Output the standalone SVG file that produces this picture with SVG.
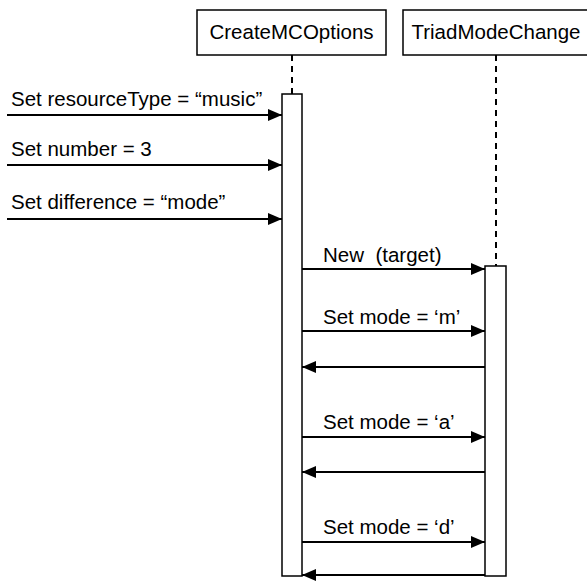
<svg xmlns="http://www.w3.org/2000/svg" width="587" height="581" viewBox="0 0 587 581">
<style>
.box{fill:#fff;stroke:#000;stroke-width:1.5}
.act{fill:#fff;stroke:#000;stroke-width:1.5}
.life{stroke:#000;stroke-width:2;stroke-dasharray:6 5;fill:none}
.msg{stroke:#000;stroke-width:2;fill:none;marker-end:url(#ah)}
text{font-family:"Liberation Sans",Arial,Helvetica,sans-serif;font-size:20.5px;fill:#000;white-space:pre}
.c{text-anchor:middle}
</style>
<defs>
<marker id="ah" viewBox="0 0 14 12" refX="14" refY="6" markerWidth="14" markerHeight="12" markerUnits="userSpaceOnUse" orient="auto">
<path d="M0,0 L14,6 L0,12 z" fill="#000"/>
</marker>
</defs>
<rect width="587" height="581" fill="#fff"/>
<g id="lifelines">
<line class="life" x1="292" y1="55" x2="292" y2="94"/>
<line class="life" x1="496" y1="55" x2="496" y2="266"/>
</g>
<g id="CreateMCOptions">
<rect class="box" x="197" y="10" width="189" height="45"/>
<text class="c" x="291.5" y="38.5">CreateMCOptions</text>
<rect class="act" x="282" y="94" width="20" height="482"/>
</g>
<g id="TriadModeChange">
<rect class="box" x="403" y="10" width="190" height="45"/>
<text class="c" x="496" y="38.5">TriadModeChange</text>
<rect class="act" x="485" y="266" width="21" height="310"/>
</g>
<g id="connectors">
<line class="msg" x1="7" y1="115" x2="282" y2="115"/>
<line class="msg" x1="7" y1="165" x2="282" y2="165"/>
<line class="msg" x1="7" y1="219" x2="282" y2="219"/>
<line class="msg" x1="302" y1="269" x2="485" y2="269"/>
<line class="msg" x1="302" y1="331" x2="485" y2="331"/>
<line class="msg" x1="485" y1="367" x2="302" y2="367"/>
<line class="msg" x1="302" y1="437" x2="485" y2="437"/>
<line class="msg" x1="485" y1="472" x2="302" y2="472"/>
<line class="msg" x1="302" y1="542" x2="485" y2="542"/>
<line class="msg" x1="485" y1="575" x2="302" y2="575"/>
</g>
<g id="labels">
<text x="11" y="106">Set resourceType = “music”</text>
<text x="11" y="156">Set number = 3</text>
<text x="11" y="209">Set difference = “mode”</text>
<text x="323" y="262">New  (target)</text>
<text x="323" y="324">Set mode = ‘m’</text>
<text x="323" y="429">Set mode = ‘a’</text>
<text x="323" y="534">Set mode = ‘d’</text>
</g>
</svg>
